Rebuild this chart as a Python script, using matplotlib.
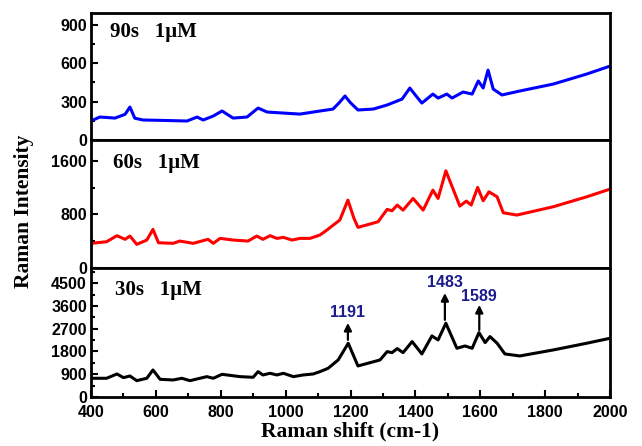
import numpy as np
import matplotlib
matplotlib.use("Agg")
import matplotlib.pyplot as plt
from matplotlib.ticker import MultipleLocator

# spectra (Raman shift, intensity)
blue_x = [400, 427, 474, 505, 520, 535, 560, 634, 696, 727, 746, 777, 804, 838, 881, 915, 943,
          993, 1044, 1106, 1146, 1165, 1183, 1200, 1223, 1270, 1313, 1359, 1383, 1400, 1420, 1454,
          1470, 1497, 1513, 1547, 1575, 1594, 1609, 1624, 1640, 1667, 1722, 1825, 1928, 2000]
blue_y = [148, 179, 171, 200, 257, 170, 156, 152, 148, 179, 156, 187, 226, 171, 179, 249, 218,
          210, 202, 226, 241, 290, 343, 290, 234, 241, 273, 319, 405, 350, 288, 358,
          327, 358, 327, 374, 358, 460, 405, 545, 397, 351, 382, 436, 514, 576]

red_x = [400, 448, 480, 505, 520, 541, 572, 591, 608, 653, 674, 715, 761, 777, 798, 838, 884,
         911, 930, 952, 973, 993, 1020, 1044, 1075, 1106, 1127, 1167, 1192, 1210, 1223, 1285,
         1313, 1328, 1344, 1362, 1393, 1424, 1454, 1470, 1494, 1537, 1557, 1572, 1592, 1609,
         1627, 1652, 1671, 1713, 1825, 1928, 2000]
red_y = [368, 392, 482, 428, 477, 353, 417, 576, 377, 368, 402, 368, 428, 368, 442, 417, 402,
         477, 428, 482, 442, 457, 417, 442, 442, 492, 566, 715, 1013, 750, 606, 690,
         875, 854, 939, 864, 1038, 864, 1162, 1038, 1450, 924, 998, 939, 1202, 1003,
         1137, 1062, 824, 790, 914, 1062, 1177]

black_x = [400, 448, 480, 500, 520, 541, 572, 591, 613, 653, 680, 705, 757, 777, 804, 859, 900,
           915, 930, 952, 973, 993, 1024, 1054, 1085, 1106, 1131, 1162, 1193, 1223, 1291, 1313,
           1328, 1344, 1362, 1390, 1420, 1451, 1470, 1494, 1528, 1553, 1575, 1596, 1615, 1630,
           1652, 1676, 1722, 1825, 1928, 2000]
black_y = [740, 740, 910, 765, 831, 646, 740, 1069, 700, 673, 740, 646, 805, 740, 897, 805, 780,
           1003, 871, 937, 871, 937, 805, 871, 910, 1003, 1135, 1464, 2125, 1227, 1464, 1794,
           1754, 1913, 1754, 2190, 1702, 2414, 2256, 2916, 1926, 2018, 1926, 2545, 2150, 2388,
           2125, 1702, 1623, 1860, 2125, 2322]

panel_labels = ["90s   1\u00b5M", "60s   1\u00b5M", "30s   1\u00b5M"]
peak_labels = ["1191", "1483", "1589"]
peak_x = [1192, 1491, 1597]
peak_text_y = [3360, 4510, 3960]
arrow_from = [2260, 3050, 2650]
arrow_to = [2930, 4110, 3640]

serif = "Liberation Serif"
sans = "Liberation Sans"

fig = plt.figure(figsize=(6.42, 4.46), dpi=100)
left, right = 91 / 642, 610 / 642
tops = [13, 140, 268]
bots = [140, 268, 397]
axes = []
for t, b in zip(tops, bots):
    ax = fig.add_axes([left, 1 - b / 446, right - left, (b - t) / 446])
    axes.append(ax)

series = [(blue_x, blue_y, "#0000ff"), (red_x, red_y, "#ff0000"), (black_x, black_y, "black")]
ylims = [(0, 990), (0, 1910), (0, 5100)]
ymajor = [300, 800, 900]
yminor = [150, 400, 450]
label_pos = [(0.037, 0.85), (0.043, 0.82), (0.046, 0.83)]

for i, ax in enumerate(axes):
    xs, ys, c = series[i]
    ax.plot(xs, ys, color=c, lw=2.2)
    ax.set_xlim(400, 2000)
    ax.set_ylim(*ylims[i])
    ax.yaxis.set_major_locator(MultipleLocator(ymajor[i]))
    ax.yaxis.set_minor_locator(MultipleLocator(yminor[i]))
    ax.xaxis.set_major_locator(MultipleLocator(200))
    ax.xaxis.set_minor_locator(MultipleLocator(100))
    ax.tick_params(which="both", direction="in", width=1.5, right=False, top=False)
    ax.tick_params(which="major", length=5)
    ax.tick_params(which="minor", length=3)
    ax.tick_params(axis="y", pad=3)
    ax.tick_params(axis="x", pad=6)
    for s in ax.spines.values():
        s.set_linewidth(2)
    for lab in ax.get_yticklabels():
        lab.set_fontfamily(sans)
        lab.set_fontweight("bold")
        lab.set_fontsize(11.5)
    if i < 2:
        ax.tick_params(axis="x", which="both", bottom=False, labelbottom=False)
    else:
        for lab in ax.get_xticklabels():
            lab.set_fontfamily(sans)
            lab.set_fontweight("bold")
            lab.set_fontsize(11.5)
    ax.text(label_pos[i][0], label_pos[i][1], panel_labels[i], transform=ax.transAxes,
            ha="left", va="center", fontfamily=serif, fontweight="bold", fontsize=15)

bax = axes[2]
for lab, px, ty, a0, a1 in zip(peak_labels, peak_x, peak_text_y, arrow_from, arrow_to):
    bax.text(px, ty, lab, ha="center", va="center", color="#1c1c8c", fontfamily=sans,
             fontweight="bold", fontsize=11.5)
    bax.annotate("", xy=(px, a1), xytext=(px, a0),
                 arrowprops=dict(arrowstyle="-|>", color="black", lw=1.6, mutation_scale=11,
                                 shrinkA=0, shrinkB=0))

bax.set_xlabel("Raman shift (cm-1)", fontfamily=serif, fontweight="bold", fontsize=15.5, labelpad=1)
fig.text(0.037, 0.527, "Raman Intensity", rotation=90, ha="center", va="center",
         fontfamily=serif, fontweight="bold", fontsize=15.5)

fig.savefig("out.png", dpi=100)
